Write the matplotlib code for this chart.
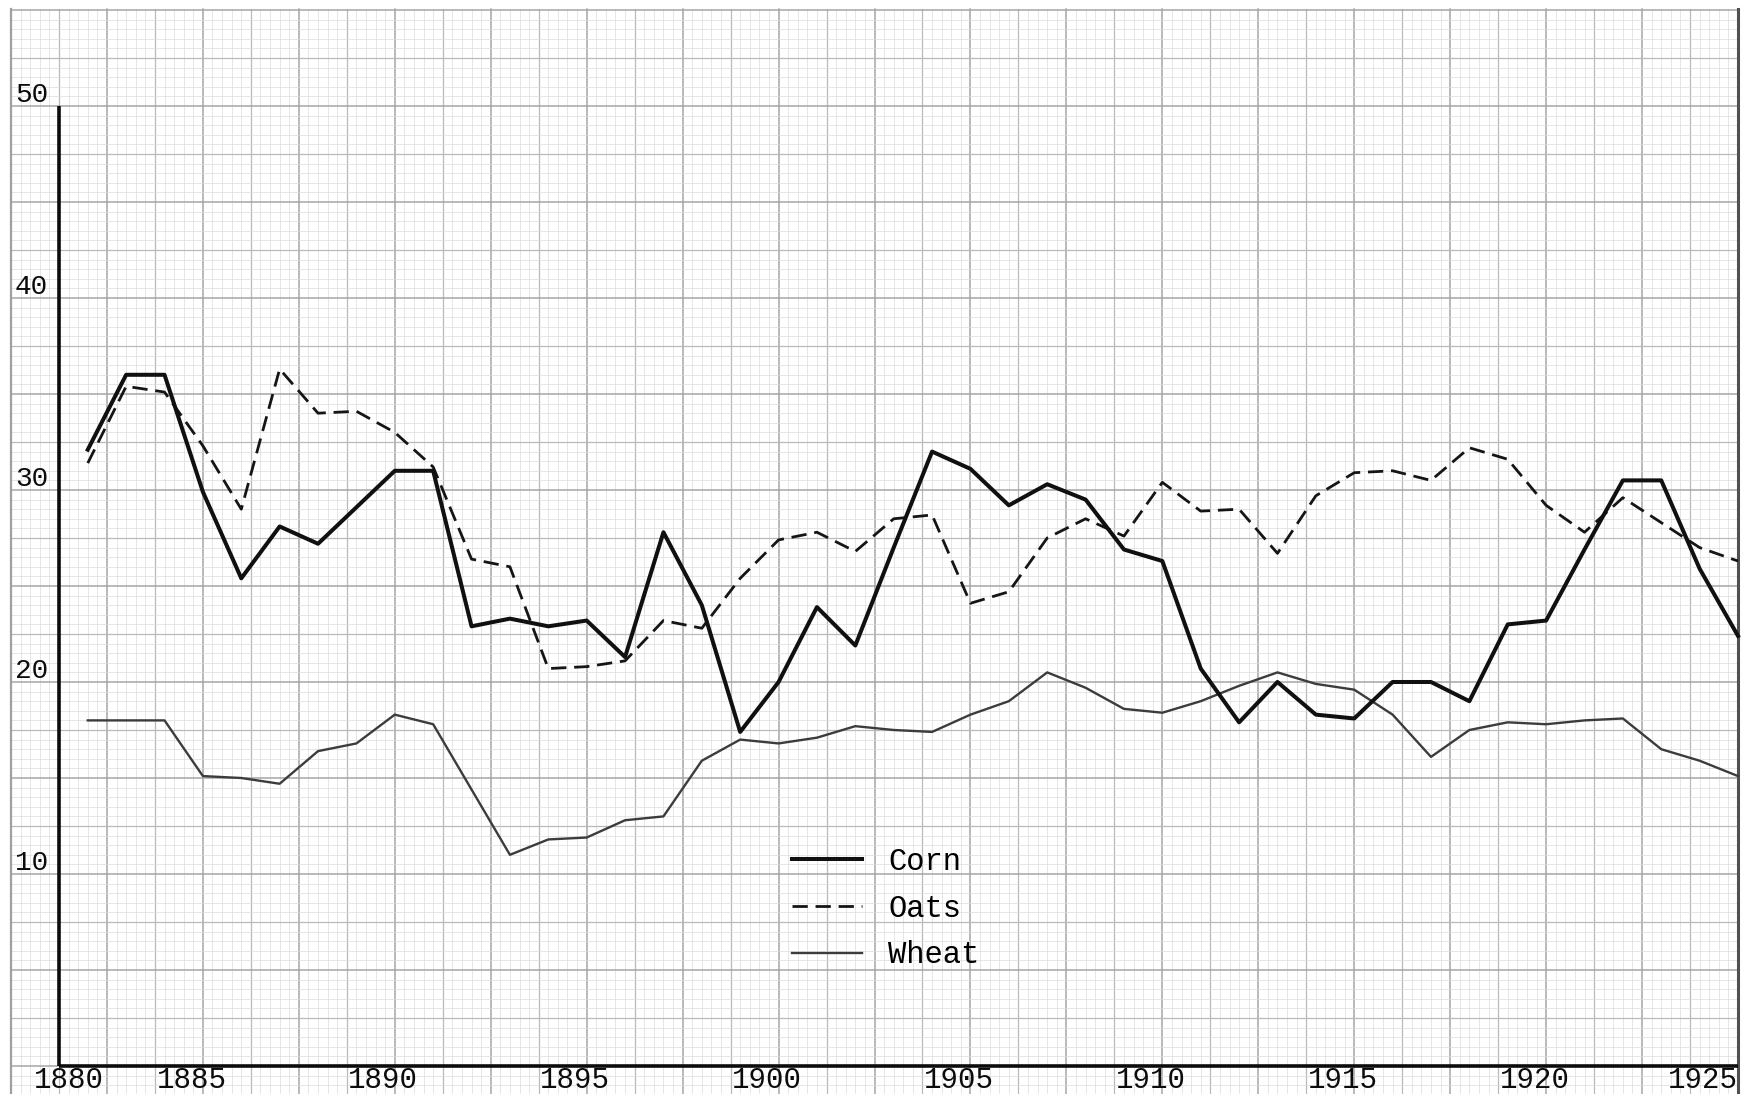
import numpy as np
import matplotlib
matplotlib.use("Agg")
import matplotlib.pyplot as plt

# data (1882-1925)
years = list(range(1882, 1926))

corn = [32.1, 36.0, 36.0, 29.9, 25.4, 28.1, 27.2, 29.1, 31.0, 31.0,
        22.9, 23.3, 22.9, 23.2, 21.3, 27.8, 24.0, 17.4, 20.0, 23.9,
        21.9, 27.0, 32.0, 31.1, 29.2, 30.3, 29.5, 26.9, 26.3, 20.7,
        17.9, 20.0, 18.3, 18.1, 20.0, 20.0, 19.0, 23.0, 23.2, 26.9,
        30.5, 30.5, 25.9, 22.4]

oats = [31.4, 35.4, 35.1, 32.3, 29.0, 36.3, 34.0, 34.1, 33.0, 31.2,
        26.4, 26.0, 20.7, 20.8, 21.1, 23.2, 22.8, 25.4, 27.4, 27.8,
        26.8, 28.5, 28.7, 24.1, 24.7, 27.5, 28.5, 27.6, 30.4, 28.9,
        29.0, 26.7, 29.7, 30.9, 31.0, 30.5, 32.2, 31.6, 29.2, 27.8,
        29.6, 28.3, 27.0, 26.3]

wheat = [18.0, 18.0, 18.0, 15.1, 15.0, 14.7, 16.4, 16.8, 18.3, 17.8,
         14.4, 11.0, 11.8, 11.9, 12.8, 13.0, 15.9, 17.0, 16.8, 17.1,
         17.7, 17.5, 17.4, 18.3, 19.0, 20.5, 19.7, 18.6, 18.4, 19.0,
         19.8, 20.5, 19.9, 19.6, 18.3, 16.1, 17.5, 17.9, 17.8, 18.0,
         18.1, 16.5, 15.9, 15.1]

y_ticks = [10, 20, 30, 40, 50]
x_ticks = [1880, 1885, 1890, 1895, 1900, 1905, 1910, 1915, 1920, 1925]

font = "Liberation Mono"
ink = "#0c0c0c"

fig = plt.figure(figsize=(17.43, 10.94), dpi=100)
ax = fig.add_axes([0, 0, 1, 1])
ax.set_xlim(1879.713, 1925.13)
ax.set_ylim(-1.458, 55.52)
ax.axis("off")

# graph paper
top = 55.05
def paper_style(k):
    if k % 10 == 0:
        return "#a6a6a6", 1.1
    if k % 5 == 0:
        return "#b9b9b9", 0.9
    return "#dcdcdc", 0.5

for v in np.arange(1880, 1925.01, 0.25):
    c, w = paper_style(round(v / 0.25))
    ax.plot([v, v], [-2, top], color=c, lw=w, zorder=0)
for v in np.arange(-1.5, top + 0.01, 0.5):
    c, w = paper_style(round(v / 0.5))
    ax.plot([1880, 1925], [v, v], color=c, lw=w, zorder=0)
ax.plot([1880, 1880], [-2, top], color="#a0a0a0", lw=1.6, zorder=1)
ax.plot([1925, 1925], [-2, top], color="#505050", lw=2.2, zorder=1)

# axes drawn on the paper
ax.plot([1881.25, 1881.25], [0, 50], color=ink, lw=2.6, zorder=3, solid_capstyle="butt")
ax.plot([1881.25, 1925], [0, 0], color=ink, lw=2.6, zorder=3, solid_capstyle="butt")

# series
ax.plot(years, corn, color="#101010", lw=2.9, zorder=5, label="Corn")
ax.plot(years, oats, color="#151515", lw=2.0, dashes=(5.5, 2.8), zorder=4, label="Oats")
ax.plot(years, wheat, color="#3c3c3c", lw=1.7, zorder=4, label="Wheat")

# typed labels
for t in y_ticks:
    ax.text(1880.1, t + 0.2, str(t), fontsize=20, family=font, color=ink,
            ha="left", va="baseline")
for t in x_ticks:
    if t == 1880:
        ax.text(1880.6, -1.15, str(t), fontsize=21, family=font, color=ink,
                ha="left", va="baseline")
    elif t == 1925:
        ax.text(1925.0, -1.15, str(t), fontsize=21, family=font, color=ink,
                ha="right", va="baseline")
    else:
        ax.text(t - 0.3, -1.15, str(t), fontsize=21, family=font, color=ink,
                ha="center", va="baseline")

leg = ax.legend(loc="upper left", bbox_to_anchor=(0.4544, 0.226), frameon=False,
                prop={"family": font, "size": 22}, handlelength=2.3,
                handletextpad=0.85, labelspacing=0.55, borderpad=0,
                borderaxespad=0)

fig.savefig("out.png", dpi=100, facecolor="white")
